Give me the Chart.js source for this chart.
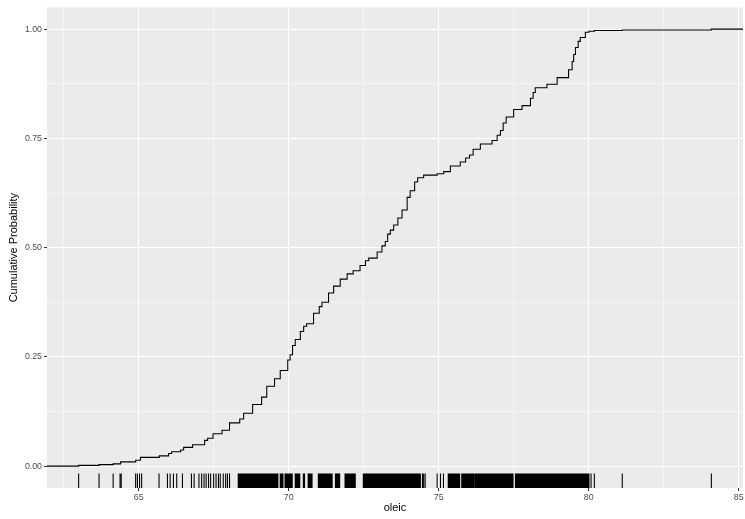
<!DOCTYPE html>
<html>
<head>
<meta charset="utf-8">
<script src="https://cdn.jsdelivr.net/npm/chart.js@4.4.0/dist/chart.umd.min.js"></script>
<style>
  html, body { margin: 0; padding: 0; background: #ffffff; }
  canvas { display: block; }
</style>
</head>
<body>
<canvas id="ecdfChart" width="745" height="519"></canvas>
<script>
// ECDF of oleic (step positions)
const ecdfX = [63.00, 63.68, 64.15, 64.40, 64.90, 65.06, 65.69, 66.00, 66.10, 66.40,
    66.50, 66.80, 67.20, 67.30, 67.48, 67.78, 68.03, 68.37, 68.50, 68.80,
    69.10, 69.27, 69.53, 69.72, 69.97, 70.05, 70.13, 70.22, 70.39, 70.50,
    70.60, 70.83, 71.02, 71.11, 71.33, 71.50, 71.72, 71.95, 72.15, 72.38,
    72.56, 72.67, 72.95, 73.11, 73.22, 73.30, 73.39, 73.50, 73.64, 73.78,
    73.95, 74.05, 74.20, 74.30, 74.50, 74.95, 75.17, 75.39, 75.72, 75.90,
    76.03, 76.15, 76.39, 76.78, 76.95, 77.06, 77.15, 77.25, 77.50, 77.78,
    78.06, 78.15, 78.22, 78.61, 78.95, 79.33, 79.45, 79.50, 79.56, 79.65,
    79.72, 79.89, 80.01, 80.19, 81.12, 84.09];
const ecdfY = [0.0017, 0.0035, 0.0052, 0.0098, 0.0137, 0.020, 0.0235, 0.029, 0.033, 0.037,
    0.043, 0.049, 0.059, 0.064, 0.074, 0.082, 0.099, 0.108, 0.121, 0.141,
    0.158, 0.183, 0.200, 0.219, 0.243, 0.255, 0.276, 0.290, 0.308, 0.320,
    0.326, 0.350, 0.365, 0.375, 0.396, 0.412, 0.428, 0.440, 0.447, 0.459,
    0.470, 0.476, 0.490, 0.504, 0.514, 0.531, 0.540, 0.552, 0.568, 0.586,
    0.615, 0.630, 0.650, 0.660, 0.666, 0.669, 0.674, 0.687, 0.696, 0.705,
    0.712, 0.725, 0.737, 0.745, 0.757, 0.768, 0.785, 0.799, 0.816, 0.825,
    0.842, 0.855, 0.866, 0.874, 0.889, 0.907, 0.926, 0.942, 0.958, 0.972,
    0.981, 0.993, 0.995, 0.997, 0.998, 1.000];

// rug marks along the bottom (oleic observations)
const rugX = [63.00, 63.68, 64.15, 64.38, 64.42, 64.90, 64.96, 65.03, 65.10, 65.68,
    65.96, 66.05, 66.16, 66.27, 66.46, 66.76, 66.85, 67.01, 67.10, 67.18,
    67.25, 67.33, 67.40, 67.50, 67.58, 67.66, 67.72, 67.82, 67.90, 67.96,
    68.03, 68.32, 68.36, 68.40, 68.45, 68.50, 68.55, 68.60, 68.64, 68.68,
    68.72, 68.76, 68.80, 68.85, 68.90, 68.94, 68.98, 69.02, 69.06, 69.10,
    69.15, 69.20, 69.25, 69.30, 69.34, 69.38, 69.42, 69.46, 69.50, 69.55,
    69.60, 69.64, 69.72, 69.76, 69.81, 69.88, 69.93, 69.98, 70.03, 70.08,
    70.12, 70.22, 70.27, 70.32, 70.37, 70.49, 70.53, 70.65, 70.70, 70.74,
    70.78, 70.99, 71.03, 71.08, 71.12, 71.16, 71.20, 71.25, 71.30, 71.35,
    71.40, 71.45, 71.56, 71.60, 71.65, 71.70, 71.88, 71.92, 71.97, 72.02,
    72.07, 72.12, 72.17, 72.22, 72.49, 72.53, 72.57, 72.61, 72.65, 72.70,
    72.75, 72.80, 72.84, 72.88, 72.92, 72.96, 73.00, 73.04, 73.08, 73.12,
    73.16, 73.20, 73.24, 73.28, 73.32, 73.36, 73.40, 73.44, 73.48, 73.52,
    73.56, 73.60, 73.64, 73.68, 73.72, 73.76, 73.80, 73.84, 73.88, 73.92,
    73.96, 74.00, 74.04, 74.08, 74.12, 74.16, 74.20, 74.25, 74.30, 74.35,
    74.39, 74.46, 74.50, 74.55, 74.95, 75.06, 75.16, 75.32, 75.36, 75.40,
    75.46, 75.52, 75.58, 75.64, 75.70, 75.77, 75.82, 75.88, 75.94, 76.00,
    76.06, 76.12, 76.18, 76.22, 76.28, 76.34, 76.40, 76.46, 76.52, 76.58,
    76.64, 76.70, 76.76, 76.82, 76.88, 76.94, 77.00, 77.06, 77.12, 77.18,
    77.24, 77.30, 77.36, 77.42, 77.48, 77.56, 77.62, 77.68, 77.74, 77.80,
    77.86, 77.92, 77.98, 78.04, 78.10, 78.16, 78.22, 78.28, 78.34, 78.40,
    78.46, 78.52, 78.58, 78.64, 78.70, 78.76, 78.82, 78.88, 78.94, 79.00,
    79.06, 79.12, 79.18, 79.24, 79.28, 79.32, 79.36, 79.40, 79.44, 79.48,
    79.52, 79.56, 79.60, 79.64, 79.68, 79.72, 79.76, 79.80, 79.84, 79.88,
    79.92, 79.96, 80.01, 80.08, 80.19, 81.12, 84.09,
    // more observations in the dense band
    68.34, 68.38, 68.43, 68.48, 68.53, 68.58, 68.62, 68.66, 68.70, 68.74,
    68.78, 68.83, 68.88, 68.92, 68.96, 69.00, 69.04, 69.08, 69.13, 69.18,
    69.23, 69.28, 69.32, 69.36, 69.40, 69.44, 69.48, 69.53, 69.58, 69.62,
    69.74, 69.79, 69.90, 69.96, 70.01, 70.06, 70.10, 70.25, 70.30, 70.35,
    70.51, 70.68, 70.72, 70.76, 71.01, 71.06, 71.10, 71.14, 71.18, 71.23,
    71.28, 71.33, 71.38, 71.43, 71.58, 71.63, 71.68, 71.90, 71.95, 72.00,
    72.05, 72.10, 72.15, 72.20, 72.51, 72.55, 72.59, 72.63, 72.68, 72.73,
    72.78, 72.82, 72.86, 72.90, 72.94, 72.98, 73.02, 73.06, 73.10, 73.14,
    73.18, 73.22, 73.26, 73.30, 73.34, 73.38, 73.42, 73.46, 73.50, 73.54,
    73.58, 73.62, 73.66, 73.70, 73.74, 73.78, 73.82, 73.86, 73.90, 73.94,
    73.98, 74.02, 74.06, 74.10, 74.14, 74.18, 74.23, 74.28, 74.33, 74.37,
    75.34, 75.38, 75.43, 75.49, 75.55, 75.61, 75.67, 75.80, 75.85, 75.91,
    75.97, 76.03, 76.09, 76.15, 76.25, 76.31, 76.37, 76.43, 76.49, 76.55,
    76.61, 76.67, 76.73, 76.79, 76.85, 76.91, 76.97, 77.03, 77.09, 77.15,
    77.21, 77.27, 77.33, 77.39, 77.45, 77.59, 77.65, 77.71, 77.77, 77.83,
    77.89, 77.95, 78.01, 78.07, 78.13, 78.19, 78.25, 78.31, 78.37, 78.43,
    78.49, 78.55, 78.61, 78.67, 78.73, 78.79, 78.85, 78.91, 78.97, 79.03,
    79.09, 79.15, 79.21, 79.26, 79.30, 79.34, 79.38, 79.42, 79.46, 79.50,
    79.54, 79.58, 79.62, 79.66, 79.70, 79.74, 79.78, 79.82, 79.86, 79.90,
    79.94, 79.98];

// axis breaks (major + minor grid) and which ones get a label
const xTicks = [62.5, 65, 67.5, 70, 72.5, 75, 77.5, 80, 82.5, 85];
const xLabels = [65, 70, 75, 80, 85];
const yTicks = [0, 0.125, 0.25, 0.375, 0.5, 0.625, 0.75, 0.875, 1];
const yLabels = [0, 0.25, 0.5, 0.75, 1];

// ggplot-style 5% expansion of the data range
const lo = Math.min(...rugX), hi = Math.max(...rugX);
const xMin = lo - 0.05 * (hi - lo);
const xMax = hi + 0.05 * (hi - lo);

const points = [{ x: xMin, y: 0 }];
ecdfX.forEach((v, i) => points.push({ x: v, y: ecdfY[i] }));
points.push({ x: xMax, y: 1 });

const panelBg = {
    id: 'panelBg',
    beforeDraw(chart) {
        const { ctx, chartArea: a } = chart;
        ctx.save();
        ctx.fillStyle = '#ebebeb';
        ctx.fillRect(a.left, a.top, a.right - a.left, a.bottom - a.top);
        ctx.restore();
    }
};

const rugPlugin = {
    id: 'rug',
    afterDatasetsDraw(chart) {
        const { ctx, chartArea: a, scales } = chart;
        const len = (a.bottom - a.top) * 0.03;
        ctx.save();
        ctx.strokeStyle = '#000000';
        ctx.lineWidth = 1.07;
        ctx.beginPath();
        rugX.forEach(v => {
            const px = scales.x.getPixelForValue(v);
            ctx.moveTo(px, a.bottom);
            ctx.lineTo(px, a.bottom - len);
        });
        ctx.stroke();
        ctx.restore();
    }
};

const tickFont = { family: "'Liberation Sans', Arial, sans-serif", size: 8.8 };
const titleFont = { family: "'Liberation Sans', Arial, sans-serif", size: 11 };

const gridFor = (labels) => ({
    color: '#ffffff',
    lineWidth: c => (c.tick && labels.includes(c.tick.value)) ? 1.07 : 0.53,
    tickLength: 3,
    tickWidth: 1.07,
    tickColor: c => (c.tick && labels.includes(c.tick.value)) ? '#333333' : 'rgba(0,0,0,0)'
});

new Chart(document.getElementById('ecdfChart').getContext('2d'), {
    type: 'line',
    data: {
        datasets: [{
            data: points,
            borderColor: '#000000',
            borderWidth: 1.07,
            pointRadius: 0,
            stepped: 'before',
            fill: false
        }]
    },
    options: {
        responsive: false,
        animation: false,
        layout: { padding: { top: 6, right: 2, left: 0, bottom: 0 } },
        plugins: { legend: { display: false }, tooltip: { enabled: false } },
        scales: {
            x: {
                type: 'linear',
                min: xMin,
                max: xMax,
                afterBuildTicks: s => { s.ticks = xTicks.map(v => ({ value: v })); },
                afterFit: s => { s.height = 31; },
                grid: gridFor(xLabels),
                border: { display: false },
                ticks: {
                    autoSkip: false,
                    maxRotation: 0,
                    padding: 1,
                    color: '#4d4d4d',
                    font: tickFont,
                    callback: v => xLabels.includes(v) ? String(v) : ''
                },
                title: {
                    display: true,
                    text: 'oleic',
                    color: '#000000',
                    font: titleFont,
                    padding: { top: 0, bottom: 4 }
                }
            },
            y: {
                type: 'linear',
                min: -0.05,
                max: 1.05,
                afterBuildTicks: s => { s.ticks = yTicks.map(v => ({ value: v })); },
                afterFit: s => { s.width = 47; },
                grid: gridFor(yLabels),
                border: { display: false },
                ticks: {
                    autoSkip: false,
                    padding: 2,
                    color: '#4d4d4d',
                    font: tickFont,
                    callback: v => yLabels.includes(v) ? v.toFixed(2) : ''
                },
                title: {
                    display: true,
                    text: 'Cumulative Probability',
                    color: '#000000',
                    font: titleFont,
                    padding: { top: 7, bottom: 0 }
                }
            }
        }
    },
    plugins: [panelBg, rugPlugin]
});
</script>
</body>
</html>
